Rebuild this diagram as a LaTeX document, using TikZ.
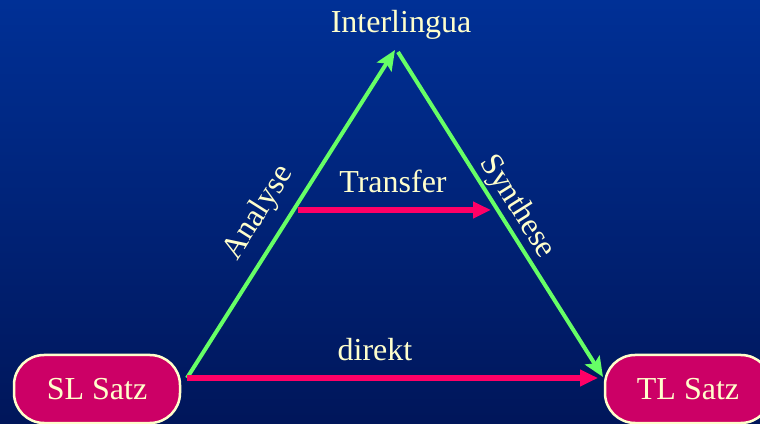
\documentclass[tikz,border=0pt]{standalone}
\usepackage{fontspec}
\setmainfont{Liberation Serif}
\usetikzlibrary{arrows.meta,calc}
\definecolor{cream}{HTML}{FFFFCC}
\definecolor{satzpink}{HTML}{CC0066}
\definecolor{arrowgreen}{HTML}{66FF66}
\definecolor{arrowred}{HTML}{FF0066}
\definecolor{bgtop}{HTML}{003096}
\definecolor{bgbot}{HTML}{00165A}

\begin{document}
\begin{tikzpicture}[x=1pt,y=1pt,
  lbl/.style={text=cream,font=\fontsize{32}{38}\selectfont,inner sep=0pt},
  satz/.style={lbl,draw=cream,line width=2.5pt,fill=satzpink,rounded corners=30pt,
    minimum width=166pt,minimum height=68pt},
  gline/.style={draw=arrowgreen,line width=4pt,-{Stealth[length=20pt,width=17pt,inset=4pt]}},
  rline/.style={draw=arrowred,line width=5.5pt,-{Triangle[length=18pt,width=16pt]}}]
\clip (0,0) rectangle (760,423);
\shade[top color=bgtop,bottom color=bgbot] (0,0) rectangle (760,423);

% the three levels
\node[satz] (sl) at (97,34) {SL Satz};
\node[satz] (tl) at (688,34) {TL Satz};
\node[lbl,anchor=base] (il) at (401,390) {Interlingua};

% end points of the connectors
\coordinate (slout) at (187,45);
\coordinate (apexin) at (395,373);
\coordinate (apexout) at (398,371);
\coordinate (tlin) at (603,46);
\coordinate (directin) at (598,45);
\coordinate (transl) at (298,213);
\coordinate (transr) at (491,213);

\draw[gline] (slout) -- (apexin);
\draw[gline] (apexout) -- (tlin);
\draw[rline] (slout) -- (directin);
\draw[rline] (transl) -- (transr);

% labels
\node[lbl,rotate=57.6] (analyse) at (259,210) {Analyse};
\node[lbl,rotate=-57.8] (synthese) at (517,216) {Synthese};
\node[lbl,anchor=base] (transfer) at (393,230) {Transfer};
\node[lbl,anchor=base] (direkt) at (375,62) {direkt};
\end{tikzpicture}
\end{document}
